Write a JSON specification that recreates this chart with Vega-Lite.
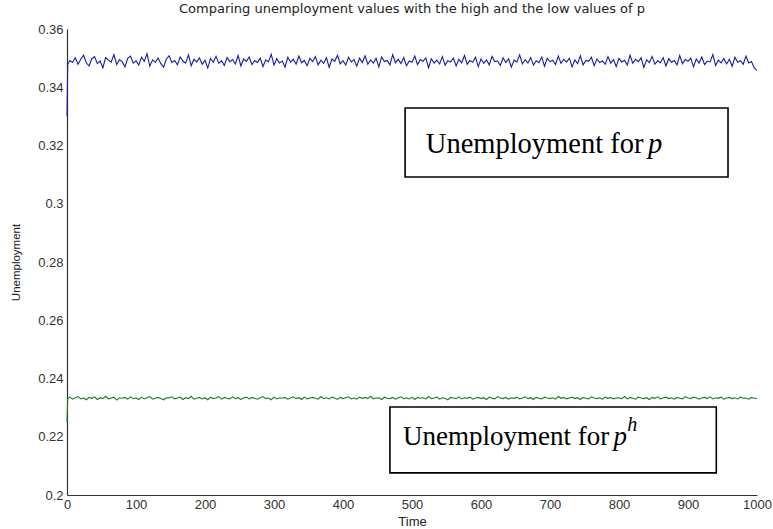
{
  "$schema": "https://vega.github.io/schema/vega-lite/v6.json",
  "width": 690,
  "height": 466,
  "autosize": {"type": "none"},
  "padding": {"left": 67, "top": 29, "right": 16, "bottom": 34},
  "background": "white",
  "config": {
    "view": {"stroke": null},
    "font": "Liberation Sans",
    "axis": {
      "domainColor": "#333333",
      "tickColor": "#333333",
      "labelColor": "#333333",
      "titleColor": "#222222",
      "labelFont": "Liberation Sans",
      "labelFontSize": 13,
      "titleFont": "Liberation Sans",
      "titleFontWeight": "normal",
      "grid": false,
      "domainWidth": 1.2,
      "labelOverlap": false,
      "labelFlush": false
    },
    "title": {"font": "DejaVu Sans", "fontSize": 13, "fontWeight": "normal", "color": "#222222", "offset": 7}
  },
  "title": {"text": "Comparing unemployment values with the high and the low values of p", "anchor": "middle"},
  "datasets": {
    "series": [
      {"t":0,"b":0.3300,"g":0.2250},
      {"t":1,"b":0.3478,"g":0.2331},{"t":4,"b":0.3492,"g":0.2336},{"t":8,"b":0.3485,"g":0.2329},{"t":12,"b":0.3501,"g":0.2334},{"t":16,"b":0.3479,"g":0.2338},{"t":20,"b":0.3496,"g":0.2330},{"t":24,"b":0.3510,"g":0.2333},{"t":28,"b":0.3484,"g":0.2327},{"t":32,"b":0.3473,"g":0.2335},{"t":36,"b":0.3498,"g":0.2332},
      {"t":40,"b":0.3505,"g":0.2337},{"t":44,"b":0.3481,"g":0.2328},{"t":48,"b":0.3490,"g":0.2334},{"t":52,"b":0.3467,"g":0.2331},{"t":56,"b":0.3502,"g":0.2339},{"t":60,"b":0.3493,"g":0.2330},{"t":64,"b":0.3486,"g":0.2333},{"t":68,"b":0.3512,"g":0.2336},{"t":72,"b":0.3478,"g":0.2326},{"t":76,"b":0.3495,"g":0.2334},
      {"t":80,"b":0.3488,"g":0.2332},{"t":84,"b":0.3470,"g":0.2335},{"t":88,"b":0.3499,"g":0.2329},{"t":92,"b":0.3507,"g":0.2337},{"t":96,"b":0.3483,"g":0.2331},{"t":100,"b":0.3491,"g":0.2333},{"t":104,"b":0.3476,"g":0.2328},{"t":108,"b":0.3503,"g":0.2336},{"t":112,"b":0.3489,"g":0.2330},{"t":116,"b":0.3515,"g":0.2334},
      {"t":120,"b":0.3472,"g":0.2338},{"t":124,"b":0.3494,"g":0.2329},{"t":128,"b":0.3486,"g":0.2332},{"t":132,"b":0.3500,"g":0.2335},{"t":136,"b":0.3481,"g":0.2331},{"t":140,"b":0.3469,"g":0.2327},{"t":144,"b":0.3497,"g":0.2334},{"t":148,"b":0.3508,"g":0.2333},{"t":152,"b":0.3485,"g":0.2337},{"t":156,"b":0.3492,"g":0.2330},
      {"t":160,"b":0.3477,"g":0.2333},{"t":164,"b":0.3504,"g":0.2336},{"t":168,"b":0.3490,"g":0.2328},{"t":172,"b":0.3483,"g":0.2334},{"t":176,"b":0.3511,"g":0.2331},{"t":180,"b":0.3474,"g":0.2339},{"t":184,"b":0.3496,"g":0.2329},{"t":188,"b":0.3487,"g":0.2332},{"t":192,"b":0.3501,"g":0.2335},{"t":196,"b":0.3479,"g":0.2330},
      {"t":200,"b":0.3493,"g":0.2334},{"t":204,"b":0.3466,"g":0.2327},{"t":208,"b":0.3499,"g":0.2336},{"t":212,"b":0.3486,"g":0.2331},{"t":216,"b":0.3506,"g":0.2333},{"t":220,"b":0.3482,"g":0.2338},{"t":224,"b":0.3491,"g":0.2329},{"t":228,"b":0.3475,"g":0.2335},{"t":232,"b":0.3502,"g":0.2332},{"t":236,"b":0.3488,"g":0.2330},
      {"t":240,"b":0.3495,"g":0.2337},{"t":244,"b":0.3480,"g":0.2331},{"t":248,"b":0.3509,"g":0.2334},{"t":252,"b":0.3473,"g":0.2328},{"t":256,"b":0.3497,"g":0.2333},{"t":260,"b":0.3489,"g":0.2336},{"t":264,"b":0.3504,"g":0.2330},{"t":268,"b":0.3478,"g":0.2335},{"t":272,"b":0.3492,"g":0.2332},{"t":276,"b":0.3485,"g":0.2329},
      {"t":280,"b":0.3500,"g":0.2334},{"t":284,"b":0.3471,"g":0.2338},{"t":288,"b":0.3494,"g":0.2331},{"t":292,"b":0.3487,"g":0.2333},{"t":296,"b":0.3513,"g":0.2327},{"t":300,"b":0.3476,"g":0.2336},{"t":304,"b":0.3498,"g":0.2330},{"t":308,"b":0.3483,"g":0.2334},{"t":312,"b":0.3490,"g":0.2332},{"t":316,"b":0.3469,"g":0.2335},
      {"t":320,"b":0.3503,"g":0.2329},{"t":324,"b":0.3486,"g":0.2333},{"t":328,"b":0.3496,"g":0.2337},{"t":332,"b":0.3479,"g":0.2331},{"t":336,"b":0.3507,"g":0.2334},{"t":340,"b":0.3484,"g":0.2328},{"t":344,"b":0.3492,"g":0.2336},{"t":348,"b":0.3474,"g":0.2330},{"t":352,"b":0.3499,"g":0.2333},{"t":356,"b":0.3488,"g":0.2335},
      {"t":360,"b":0.3505,"g":0.2332},{"t":364,"b":0.3477,"g":0.2329},{"t":368,"b":0.3493,"g":0.2338},{"t":372,"b":0.3482,"g":0.2331},{"t":376,"b":0.3501,"g":0.2334},{"t":380,"b":0.3468,"g":0.2330},{"t":384,"b":0.3497,"g":0.2336},{"t":388,"b":0.3489,"g":0.2333},{"t":392,"b":0.3510,"g":0.2328},{"t":396,"b":0.3480,"g":0.2335},
      {"t":400,"b":0.3491,"g":0.2331},{"t":404,"b":0.3476,"g":0.2334},{"t":408,"b":0.3503,"g":0.2337},{"t":412,"b":0.3487,"g":0.2330},{"t":416,"b":0.3495,"g":0.2333},{"t":420,"b":0.3472,"g":0.2329},{"t":424,"b":0.3500,"g":0.2336},{"t":428,"b":0.3485,"g":0.2332},{"t":432,"b":0.3508,"g":0.2335},{"t":436,"b":0.3479,"g":0.2331},
      {"t":440,"b":0.3494,"g":0.2339},{"t":444,"b":0.3483,"g":0.2330},{"t":448,"b":0.3499,"g":0.2333},{"t":452,"b":0.3470,"g":0.2334},{"t":456,"b":0.3504,"g":0.2328},{"t":460,"b":0.3488,"g":0.2336},{"t":464,"b":0.3492,"g":0.2332},{"t":468,"b":0.3477,"g":0.2331},{"t":472,"b":0.3512,"g":0.2335},{"t":476,"b":0.3484,"g":0.2329},
      {"t":480,"b":0.3496,"g":0.2334},{"t":484,"b":0.3481,"g":0.2337},{"t":488,"b":0.3502,"g":0.2331},{"t":492,"b":0.3474,"g":0.2333},{"t":496,"b":0.3490,"g":0.2330},{"t":500,"b":0.3486,"g":0.2336},{"t":504,"b":0.3507,"g":0.2328},{"t":508,"b":0.3478,"g":0.2335},{"t":512,"b":0.3495,"g":0.2332},{"t":516,"b":0.3489,"g":0.2334},
      {"t":520,"b":0.3501,"g":0.2330},{"t":524,"b":0.3467,"g":0.2338},{"t":528,"b":0.3498,"g":0.2331},{"t":532,"b":0.3483,"g":0.2333},{"t":536,"b":0.3493,"g":0.2336},{"t":540,"b":0.3480,"g":0.2329},{"t":544,"b":0.3505,"g":0.2334},{"t":548,"b":0.3476,"g":0.2332},{"t":552,"b":0.3491,"g":0.2327},{"t":556,"b":0.3487,"g":0.2335},
      {"t":560,"b":0.3500,"g":0.2333},{"t":564,"b":0.3473,"g":0.2331},{"t":568,"b":0.3496,"g":0.2337},{"t":572,"b":0.3484,"g":0.2330},{"t":576,"b":0.3509,"g":0.2334},{"t":580,"b":0.3479,"g":0.2332},{"t":584,"b":0.3492,"g":0.2336},{"t":588,"b":0.3486,"g":0.2329},{"t":592,"b":0.3503,"g":0.2333},{"t":596,"b":0.3471,"g":0.2335},
      {"t":600,"b":0.3497,"g":0.2331},{"t":604,"b":0.3482,"g":0.2334},{"t":608,"b":0.3494,"g":0.2328},{"t":612,"b":0.3477,"g":0.2336},{"t":616,"b":0.3506,"g":0.2332},{"t":620,"b":0.3488,"g":0.2330},{"t":624,"b":0.3490,"g":0.2338},{"t":628,"b":0.3475,"g":0.2333},{"t":632,"b":0.3501,"g":0.2331},{"t":636,"b":0.3485,"g":0.2335},
      {"t":640,"b":0.3498,"g":0.2329},{"t":644,"b":0.3469,"g":0.2334},{"t":648,"b":0.3493,"g":0.2332},{"t":652,"b":0.3487,"g":0.2336},{"t":656,"b":0.3511,"g":0.2330},{"t":660,"b":0.3480,"g":0.2333},{"t":664,"b":0.3495,"g":0.2337},{"t":668,"b":0.3483,"g":0.2331},{"t":672,"b":0.3502,"g":0.2334},{"t":676,"b":0.3476,"g":0.2328},
      {"t":680,"b":0.3491,"g":0.2335},{"t":684,"b":0.3484,"g":0.2332},{"t":688,"b":0.3504,"g":0.2330},{"t":692,"b":0.3472,"g":0.2336},{"t":696,"b":0.3499,"g":0.2333},{"t":700,"b":0.3488,"g":0.2331},{"t":704,"b":0.3493,"g":0.2334},{"t":708,"b":0.3478,"g":0.2329},{"t":712,"b":0.3507,"g":0.2338},{"t":716,"b":0.3482,"g":0.2332},
      {"t":720,"b":0.3496,"g":0.2335},{"t":724,"b":0.3486,"g":0.2330},{"t":728,"b":0.3500,"g":0.2333},{"t":732,"b":0.3470,"g":0.2336},{"t":736,"b":0.3494,"g":0.2331},{"t":740,"b":0.3481,"g":0.2334},{"t":744,"b":0.3508,"g":0.2328},{"t":748,"b":0.3477,"g":0.2335},{"t":752,"b":0.3492,"g":0.2332},{"t":756,"b":0.3489,"g":0.2330},
      {"t":760,"b":0.3503,"g":0.2337},{"t":764,"b":0.3474,"g":0.2333},{"t":768,"b":0.3497,"g":0.2331},{"t":772,"b":0.3485,"g":0.2334},{"t":776,"b":0.3490,"g":0.2329},{"t":780,"b":0.3479,"g":0.2336},{"t":784,"b":0.3505,"g":0.2332},{"t":788,"b":0.3483,"g":0.2335},{"t":792,"b":0.3495,"g":0.2330},{"t":796,"b":0.3471,"g":0.2333},
      {"t":800,"b":0.3499,"g":0.2334},{"t":804,"b":0.3487,"g":0.2331},{"t":808,"b":0.3493,"g":0.2338},{"t":812,"b":0.3476,"g":0.2330},{"t":816,"b":0.3510,"g":0.2335},{"t":820,"b":0.3482,"g":0.2332},{"t":824,"b":0.3496,"g":0.2329},{"t":828,"b":0.3488,"g":0.2336},{"t":832,"b":0.3501,"g":0.2333},{"t":836,"b":0.3468,"g":0.2331},
      {"t":840,"b":0.3494,"g":0.2334},{"t":844,"b":0.3485,"g":0.2328},{"t":848,"b":0.3506,"g":0.2335},{"t":852,"b":0.3479,"g":0.2332},{"t":856,"b":0.3491,"g":0.2337},{"t":860,"b":0.3484,"g":0.2330},{"t":864,"b":0.3502,"g":0.2333},{"t":868,"b":0.3473,"g":0.2336},{"t":872,"b":0.3498,"g":0.2331},{"t":876,"b":0.3486,"g":0.2334},
      {"t":880,"b":0.3492,"g":0.2329},{"t":884,"b":0.3477,"g":0.2335},{"t":888,"b":0.3509,"g":0.2332},{"t":892,"b":0.3481,"g":0.2330},{"t":896,"b":0.3495,"g":0.2338},{"t":900,"b":0.3489,"g":0.2333},{"t":904,"b":0.3500,"g":0.2331},{"t":908,"b":0.3470,"g":0.2336},{"t":912,"b":0.3497,"g":0.2334},{"t":916,"b":0.3483,"g":0.2329},
      {"t":920,"b":0.3504,"g":0.2333},{"t":924,"b":0.3478,"g":0.2335},{"t":928,"b":0.3490,"g":0.2331},{"t":932,"b":0.3487,"g":0.2337},{"t":936,"b":0.3512,"g":0.2330},{"t":940,"b":0.3475,"g":0.2334},{"t":944,"b":0.3493,"g":0.2332},{"t":948,"b":0.3484,"g":0.2336},{"t":952,"b":0.3499,"g":0.2329},{"t":956,"b":0.3480,"g":0.2333},
      {"t":960,"b":0.3496,"g":0.2335},{"t":964,"b":0.3472,"g":0.2331},{"t":968,"b":0.3503,"g":0.2334},{"t":972,"b":0.3486,"g":0.2330},{"t":976,"b":0.3491,"g":0.2336},{"t":980,"b":0.3479,"g":0.2332},{"t":984,"b":0.3507,"g":0.2333},{"t":988,"b":0.3483,"g":0.2329},{"t":992,"b":0.3488,"g":0.2335},{"t":996,"b":0.3466,"g":0.2332},
      {"t":1000,"b":0.3458,"g":0.2332}
    ],
    "boxes": [
      {"t":490,"t2":958,"v":0.3329,"v2":0.3092},
      {"t":468,"t2":941,"v":0.2302,"v2":0.2076}
    ],
    "plain": [
      {"t":520,"v":0.3174,"txt":"Unemployment for","size":28.5},
      {"t":487,"v":0.2172,"txt":"Unemployment for","size":27}
    ],
    "ital": [
      {"t":842,"v":0.3174,"txt":"p","size":28.5},
      {"t":792,"v":0.2172,"txt":"p","size":27},
      {"t":812,"v":0.2220,"txt":"h","size":20}
    ],
    "xticks": [{"t":0},{"t":100},{"t":200},{"t":300},{"t":400},{"t":500},{"t":600},{"t":700},{"t":800},{"t":900},{"t":1000}],
    "yticks": [{"v":0.2},{"v":0.22},{"v":0.24},{"v":0.26},{"v":0.28},{"v":0.3},{"v":0.32},{"v":0.34},{"v":0.36}]
  },
  "encoding": {
    "x": {"field": "t", "type": "quantitative", "scale": {"domain": [0, 1000], "nice": false},
          "axis": {"title": "Time", "values": [0,100,200,300,400,500,600,700,800,900,1000], "format": "d", "ticks": false, "labelPadding": 3, "titleFontSize": 13, "titlePadding": 4}},
    "y": {"field": "v", "type": "quantitative", "scale": {"domain": [0.2, 0.36], "nice": false, "zero": false},
          "axis": {"title": "Unemployment", "values": [0.2,0.22,0.24,0.26,0.28,0.3,0.32,0.34,0.36], "format": ".2~f", "ticks": false, "labelPadding": 4, "titleFontSize": 11.5, "titlePadding": 16}}
  },
  "layer": [
    {
      "data": {"name": "series"},
      "transform": [{"fold": ["b", "g"], "as": ["s", "v"]}],
      "mark": {"type": "line", "strokeWidth": 1.1, "interpolate": "linear"},
      "encoding": {
        "color": {"field": "s", "type": "nominal", "scale": {"domain": ["b", "g"], "range": ["#1a1aa8", "#1e7d1e"]}, "legend": null}
      }
    },
    {
      "data": {"name": "boxes"},
      "mark": {"type": "rect", "fill": "white", "stroke": "black", "strokeWidth": 1.6},
      "encoding": {
        "x2": {"field": "t2"},
        "y2": {"field": "v2"}
      }
    },
    {
      "data": {"name": "xticks"},
      "mark": {"type": "rule", "color": "#222222", "strokeWidth": 1.3},
      "encoding": {
        "y": {"datum": 0.2, "type": "quantitative"},
        "y2": {"datum": 0.2019}
      }
    },
    {
      "data": {"name": "yticks"},
      "mark": {"type": "rule", "color": "#222222", "strokeWidth": 1.3},
      "encoding": {
        "x": {"datum": 0, "type": "quantitative"},
        "x2": {"datum": 8}
      }
    },
    {
      "data": {"name": "plain"},
      "mark": {"type": "text", "font": "Liberation Serif", "align": "left", "baseline": "alphabetic", "color": "black"},
      "encoding": {
        "text": {"field": "txt"},
        "size": {"field": "size", "type": "quantitative", "scale": null}
      }
    },
    {
      "data": {"name": "ital"},
      "mark": {"type": "text", "font": "Liberation Serif", "fontStyle": "italic", "align": "left", "baseline": "alphabetic", "color": "black"},
      "encoding": {
        "text": {"field": "txt"},
        "size": {"field": "size", "type": "quantitative", "scale": null}
      }
    }
  ]
}
